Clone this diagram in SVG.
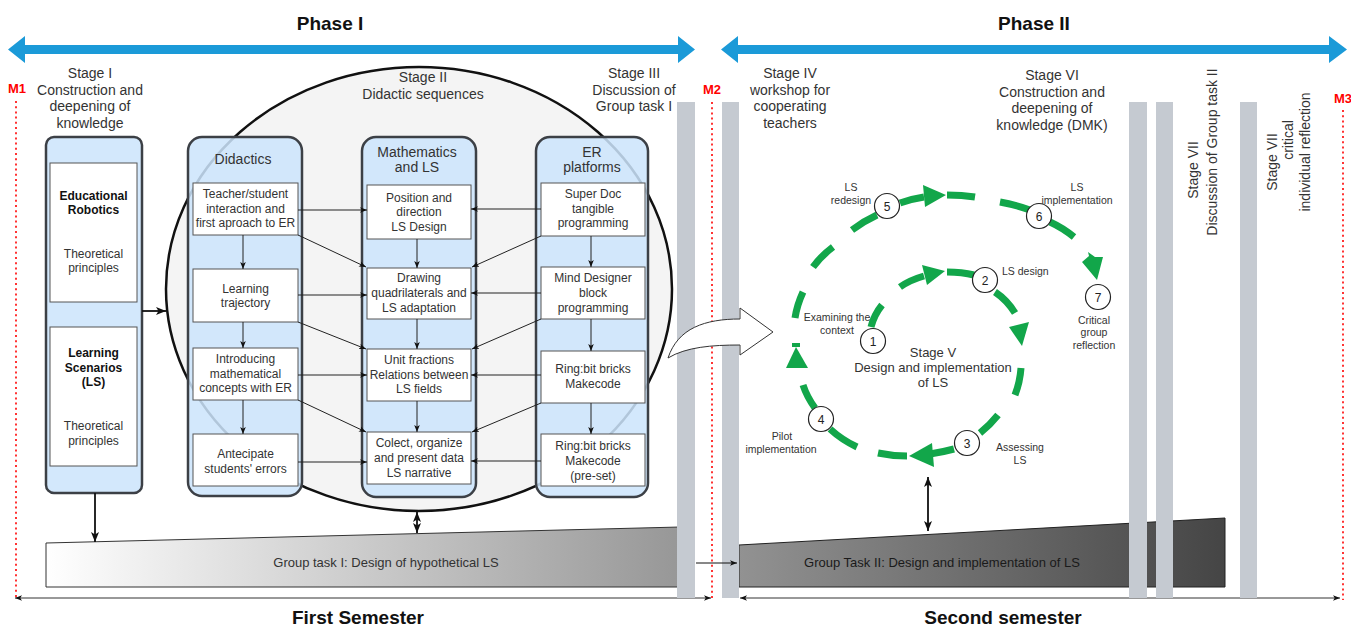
<svg xmlns="http://www.w3.org/2000/svg" width="1351" height="627" viewBox="0 0 1351 627">
<defs>
<style>
text{font-family:"Liberation Sans",Arial,sans-serif;fill:#333}
.ph{font-size:19px;font-weight:bold;fill:#111;text-anchor:middle}
.st{font-size:14px;text-anchor:middle}
.bx{font-size:12px;text-anchor:middle}
.bb{font-size:12px;font-weight:bold;fill:#111;text-anchor:middle}
.ti{font-size:14px;text-anchor:middle}
.cl{font-size:10.5px;text-anchor:middle}
.m{font-size:13px;font-weight:bold;fill:#f00;text-anchor:middle}
.col{fill:#cce4fc;fill-opacity:0.86;stroke:#3c4046;stroke-width:2.5}
.box{fill:#fff;stroke:#555;stroke-width:1}
.cn{stroke:#222;stroke-width:1;fill:none;marker-end:url(#a)}
.bar{fill:#c5cad1}
.dot{stroke:#f00;stroke-width:1.6;stroke-dasharray:2 3.2;fill:none}
.g{stroke:#12a64a;stroke-width:7;fill:none}
.gh{fill:#12a64a}
.nc{fill:#fff;stroke:#222;stroke-width:1.2}
.nt{font-size:12px;text-anchor:middle;fill:#222}
</style>
<marker id="a" viewBox="0 0 10 10" refX="10" refY="5" markerWidth="7" markerHeight="7" markerUnits="userSpaceOnUse" orient="auto-start-reverse"><path d="M0,1 L10,5 L0,9 L2.5,5 z" fill="#111"/></marker>
<marker id="b" viewBox="0 0 10 10" refX="10" refY="5" markerWidth="10" markerHeight="10" markerUnits="userSpaceOnUse" orient="auto-start-reverse"><path d="M0,1 L10,5 L0,9 L2.5,5 z" fill="#111"/></marker>
<linearGradient id="g1" x1="0" y1="0" x2="1" y2="0"><stop offset="0" stop-color="#ffffff"/><stop offset="1" stop-color="#979797"/></linearGradient>
<linearGradient id="g2" x1="0" y1="0" x2="1" y2="0"><stop offset="0" stop-color="#929292"/><stop offset="1" stop-color="#454545"/></linearGradient>
</defs>
<rect width="1351" height="627" fill="#fff"/>

<g id="phase-headers">
<text class="ph" x="330" y="30">Phase I</text>
<text class="ph" x="1034" y="30">Phase II</text>
<polygon fill="#1b9ad8" points="8,49.5 25,36 25,45 678,45 678,36 695,49.5 678,63 678,54 25,54 25,63"/>
<polygon fill="#1b9ad8" points="721,49.5 738,36 738,45 1329,45 1329,36 1347,49.5 1329,63 1329,54 738,54 738,63"/>
</g>

<g id="stage-labels">
<text class="st" x="90" y="78">Stage I</text>
<text class="st" x="90" y="95">Construction and</text>
<text class="st" x="90" y="111">deepening of</text>
<text class="st" x="90" y="128">knowledge</text>
<text class="st" x="634" y="78">Stage III</text>
<text class="st" x="634" y="95">Discussion of</text>
<text class="st" x="634" y="111">Group task I</text>
<text class="st" x="790" y="78">Stage IV</text>
<text class="st" x="790" y="95">workshop for</text>
<text class="st" x="790" y="111">cooperating</text>
<text class="st" x="790" y="128">teachers</text>
<text class="st" x="1052" y="80">Stage VI</text>
<text class="st" x="1052" y="97">Construction and</text>
<text class="st" x="1052" y="113">deepening of</text>
<text class="st" x="1052" y="130">knowledge (DMK)</text>
</g>

<g id="stage2-ellipse">
<ellipse cx="419" cy="289" rx="253" ry="222" fill="#f4f4f4" stroke="#111" stroke-width="2.5"/>
<text class="st" x="423" y="82">Stage II</text>
<text class="st" x="423" y="99">Didactic sequences</text>
</g>

<g id="stage1-col">
<rect class="col" x="46" y="137" width="96" height="356" rx="8"/>
<rect class="box" x="50" y="163" width="87" height="139"/>
<text class="bb" x="93.5" y="200">Educational</text>
<text class="bb" x="93.5" y="214">Robotics</text>
<text class="bx" x="93.5" y="258">Theoretical</text>
<text class="bx" x="93.5" y="272">principles</text>
<rect class="box" x="50" y="327" width="87" height="139"/>
<text class="bb" x="93.5" y="357">Learning</text>
<text class="bb" x="93.5" y="372">Scenarios</text>
<text class="bb" x="93.5" y="386">(LS)</text>
<text class="bx" x="93.5" y="430">Theoretical</text>
<text class="bx" x="93.5" y="445">principles</text>
</g>

<g id="didactics-col">
<rect class="col" x="188" y="137" width="114" height="359" rx="14"/>
<text class="ti" x="243" y="164">Didactics</text>
<rect class="box" x="193" y="183" width="105" height="52"/>
<text class="bx" x="245.5" y="198">Teacher/student</text>
<text class="bx" x="245.5" y="213">interaction and</text>
<text class="bx" x="245.5" y="227">first aproach to ER</text>
<rect class="box" x="193" y="269" width="105" height="53"/>
<text class="bx" x="245.5" y="293">Learning</text>
<text class="bx" x="245.5" y="307">trajectory</text>
<rect class="box" x="193" y="348" width="105" height="52"/>
<text class="bx" x="245.5" y="363">Introducing</text>
<text class="bx" x="245.5" y="378">mathematical</text>
<text class="bx" x="245.5" y="392">concepts with ER</text>
<rect class="box" x="193" y="434" width="105" height="52"/>
<text class="bx" x="245.5" y="458">Antecipate</text>
<text class="bx" x="245.5" y="473">students' errors</text>
</g>

<g id="math-col">
<rect class="col" x="362" y="137" width="114" height="360" rx="14"/>
<text class="ti" x="417" y="157">Mathematics</text>
<text class="ti" x="417" y="172">and LS</text>
<rect class="box" x="367" y="185" width="104" height="54"/>
<text class="bx" x="419" y="202">Position and</text>
<text class="bx" x="419" y="216">direction</text>
<text class="bx" x="419" y="231">LS Design</text>
<rect class="box" x="367" y="268" width="104" height="51"/>
<text class="bx" x="419" y="282">Drawing</text>
<text class="bx" x="419" y="297">quadrilaterals and</text>
<text class="bx" x="419" y="312">LS adaptation</text>
<rect class="box" x="367" y="349" width="104" height="52"/>
<text class="bx" x="419" y="364">Unit fractions</text>
<text class="bx" x="419" y="379">Relations between</text>
<text class="bx" x="419" y="393">LS fields</text>
<rect class="box" x="367" y="432" width="104" height="52"/>
<text class="bx" x="419" y="447">Colect, organize</text>
<text class="bx" x="419" y="462">and present data</text>
<text class="bx" x="419" y="477">LS narrative</text>
</g>

<g id="er-col">
<rect class="col" x="536" y="137" width="112" height="360" rx="14"/>
<text class="ti" x="592" y="157">ER</text>
<text class="ti" x="592" y="172">platforms</text>
<rect class="box" x="541" y="183" width="104" height="53"/>
<text class="bx" x="593" y="198">Super Doc</text>
<text class="bx" x="593" y="213">tangible</text>
<text class="bx" x="593" y="227">programming</text>
<rect class="box" x="541" y="267" width="104" height="52"/>
<text class="bx" x="593" y="282">Mind Designer</text>
<text class="bx" x="593" y="297">block</text>
<text class="bx" x="593" y="312">programming</text>
<rect class="box" x="541" y="351" width="104" height="52"/>
<text class="bx" x="593" y="373">Ring:bit bricks</text>
<text class="bx" x="593" y="388">Makecode</text>
<rect class="box" x="541" y="434" width="104" height="52"/>
<text class="bx" x="593" y="450">Ring:bit bricks</text>
<text class="bx" x="593" y="465">Makecode</text>
<text class="bx" x="593" y="480">(pre-set)</text>
</g>

<g id="group-task-1">
<polygon points="46,543 680,527 680,587 46,587" fill="url(#g1)" stroke="#333" stroke-width="1"/>
<text x="386" y="567" style="font-size:13px;text-anchor:middle">Group task I: Design of hypothetical LS</text>
</g>
<g id="group-task-2">
<polygon points="739,545 1225,518 1225,587 739,587" fill="url(#g2)" stroke="#222" stroke-width="1"/>
<text x="942" y="567" style="font-size:13px;text-anchor:middle;fill:#1a1a1a">Group Task II: Design and implementation of LS</text>
</g>

<g id="connectors">
<line class="cn" x1="243" y1="235" x2="243" y2="269"/>
<line class="cn" x1="243" y1="322" x2="243" y2="348"/>
<line class="cn" x1="243" y1="400" x2="243" y2="434"/>
<line class="cn" x1="417" y1="239" x2="417" y2="268"/>
<line class="cn" x1="417" y1="319" x2="417" y2="349"/>
<line class="cn" x1="417" y1="401" x2="417" y2="432"/>
<line class="cn" x1="591" y1="236" x2="591" y2="267"/>
<line class="cn" x1="591" y1="319" x2="591" y2="351"/>
<line class="cn" x1="591" y1="403" x2="591" y2="434"/>
<line class="cn" x1="298" y1="210" x2="367" y2="210"/>
<line class="cn" x1="298" y1="235" x2="366" y2="267"/>
<line class="cn" x1="298" y1="295" x2="367" y2="295"/>
<line class="cn" x1="298" y1="322" x2="366" y2="349"/>
<line class="cn" x1="298" y1="375" x2="367" y2="375"/>
<line class="cn" x1="298" y1="400" x2="366" y2="432"/>
<line class="cn" x1="298" y1="462" x2="367" y2="462"/>
<line class="cn" x1="541" y1="209" x2="471" y2="209"/>
<line class="cn" x1="541" y1="236" x2="472" y2="267"/>
<line class="cn" x1="541" y1="293" x2="471" y2="293"/>
<line class="cn" x1="541" y1="319" x2="472" y2="349"/>
<line class="cn" x1="541" y1="375" x2="471" y2="375"/>
<line class="cn" x1="541" y1="403" x2="472" y2="432"/>
<line class="cn" x1="541" y1="461" x2="471" y2="461"/>
<line x1="142" y1="311" x2="166" y2="311" stroke="#111" stroke-width="1.8" marker-end="url(#b)"/>
<line x1="95" y1="493" x2="95" y2="542" stroke="#111" stroke-width="1.8" marker-end="url(#b)"/>
<line x1="417" y1="512" x2="417" y2="533" stroke="#111" stroke-width="1.8" marker-start="url(#b)" marker-end="url(#b)"/>
<line x1="928" y1="477" x2="928" y2="531" stroke="#111" stroke-width="1.8" marker-start="url(#b)" marker-end="url(#b)"/>
<line x1="15" y1="598" x2="711" y2="598" stroke="#333" stroke-width="1" marker-start="url(#a)" marker-end="url(#a)"/>
<line x1="740" y1="598" x2="1340" y2="598" stroke="#333" stroke-width="1" marker-start="url(#a)" marker-end="url(#a)"/>
</g>

<g id="bars">
<rect class="bar" x="677" y="102" width="18" height="496"/>
<rect class="bar" x="722" y="102" width="17" height="496"/>
<rect class="bar" x="1129" y="102" width="18" height="496"/>
<rect class="bar" x="1156" y="102" width="17" height="496"/>
<rect class="bar" x="1240" y="102" width="17" height="496"/>
</g>

<g id="connectors-top">
<line x1="696" y1="563" x2="737" y2="563" stroke="#111" stroke-width="1" marker-end="url(#a)"/>
</g>

<g id="milestones">
<text class="m" x="17" y="93">M1</text>
<line class="dot" x1="16" y1="101" x2="16" y2="598"/>
<text class="m" x="712" y="94">M2</text>
<line class="dot" x1="712" y1="102" x2="712" y2="600"/>
<text class="m" x="1343" y="103">M3</text>
<line class="dot" x1="1343" y1="110" x2="1343" y2="600"/>
</g>

<g id="stage7-labels">
<g transform="translate(1203,152) rotate(-90)">
<text class="st" x="-18" y="-5">Stage VII</text>
<text class="st" x="0" y="14">Discussion of Group task II</text>
</g>
<g transform="translate(1290,152) rotate(-90)">
<text class="st" x="-10" y="-13">Stage VII</text>
<text class="st" x="12" y="3">critical</text>
<text class="st" x="0" y="20">individual reflection</text>
</g>
</g>

<g id="semesters">
<text class="ph" x="358" y="624">First Semester</text>
<text class="ph" x="1003" y="624">Second semester</text>
</g>

<g id="transition-arrow">
<path d="M668,358 C678,328 705,319 740,319 L740,308 L773,332 L740,355 L740,345 C712,345 686,347 668,358 Z" fill="#fff" stroke="#333" stroke-width="1"/>
</g>

<g id="stage5-cycle">
<path class="g" d="M871,327 Q874,315 882,305"/>
<path class="g" d="M900,287 Q910,280 924,276"/>
<polygon class="gh" points="922,265 945,271 927,285"/>
<path class="g" d="M947,272 Q962,272 974,275"/>
<path class="g" d="M995,292 Q1007,300 1015,313"/>
<polygon class="gh" points="1009,327 1029,322 1022,346"/>
<path class="g" d="M1021,368 Q1020,382 1015,395"/>
<path class="g" d="M998,415 Q990,425 980,433"/>
<path class="g" d="M954,449 Q943,452 930,454"/>
<polygon class="gh" points="932,443 909,456 934,467"/>
<path class="g" d="M907,456 Q892,456 878,453"/>
<path class="g" d="M857,447 Q842,440 830,429"/>
<path class="g" d="M815,408 Q807,397 803,385"/>
<polygon class="gh" points="786,368 796,347 808,368"/>
<rect class="gh" x="792" y="343" width="8" height="4"/>
<path class="g" d="M795,318 Q797,305 803,292"/>
<path class="g" d="M813,267 Q821,256 833,247"/>
<path class="g" d="M852,230 Q864,221 877,215"/>
<path class="g" d="M900,203 Q911,199 924,197"/>
<polygon class="gh" points="923,185 946,195 925,207"/>
<path class="g" d="M947,195 Q962,195 975,197"/>
<path class="g" d="M1000,202 Q1016,205 1030,210"/>
<path class="g" d="M1050,222 Q1063,228 1074,237"/>
<polygon class="gh" points="1082,262 1089,256 1088,252 1095,257 1103,257 1097,280"/>

<g id="n1"><circle class="nc" cx="873" cy="341" r="12.5"/><text class="nt" x="873" y="345.5">1</text></g>
<g id="n2"><circle class="nc" cx="985" cy="280" r="12.5"/><text class="nt" x="985" y="284.5">2</text></g>
<g id="n3"><circle class="nc" cx="967" cy="443" r="12.5"/><text class="nt" x="967" y="447.5">3</text></g>
<g id="n4"><circle class="nc" cx="821" cy="419" r="12.5"/><text class="nt" x="821" y="423.5">4</text></g>
<g id="n5"><circle class="nc" cx="887" cy="206" r="12.5"/><text class="nt" x="887" y="210.5">5</text></g>
<g id="n6"><circle class="nc" cx="1039" cy="216" r="12.5"/><text class="nt" x="1039" y="220.5">6</text></g>
<g id="n7"><circle class="nc" cx="1098" cy="297" r="12.5"/><text class="nt" x="1098" y="301.5">7</text></g>

<text class="cl" x="837" y="321">Examining the</text>
<text class="cl" x="837" y="334">context</text>
<text class="cl" x="851" y="191">LS</text>
<text class="cl" x="851" y="204">redesign</text>
<text class="cl" x="1077" y="191">LS</text>
<text class="cl" x="1077" y="204">implementation</text>
<text class="cl" x="1002" y="275" style="text-anchor:start">LS design</text>
<text class="cl" x="1094" y="324">Critical</text>
<text class="cl" x="1094" y="336">group</text>
<text class="cl" x="1094" y="349">reflection</text>
<text class="cl" x="1020" y="451">Assessing</text>
<text class="cl" x="1020" y="464">LS</text>
<text class="cl" x="782" y="440">Pilot</text>
<text class="cl" x="781" y="453">implementation</text>
<text x="933" y="357" style="font-size:13px;text-anchor:middle">Stage V</text>
<text x="933" y="372" style="font-size:13px;text-anchor:middle">Design and implementation</text>
<text x="933" y="387" style="font-size:13px;text-anchor:middle">of LS</text>
</g>
</svg>
